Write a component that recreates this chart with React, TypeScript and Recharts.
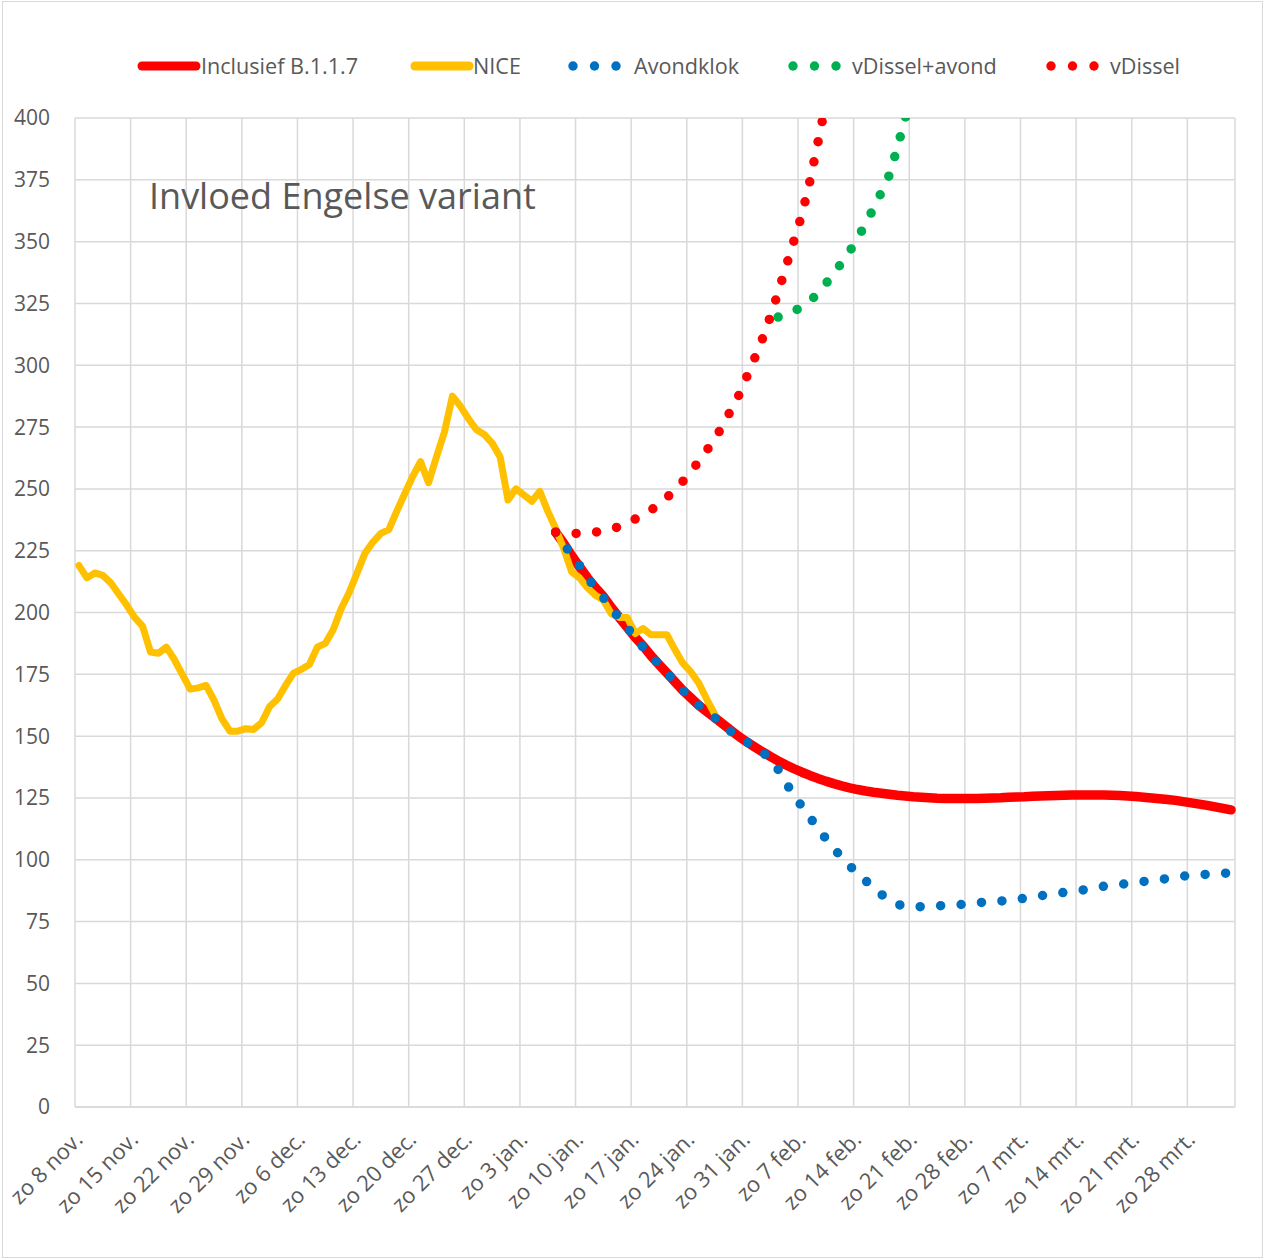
import { LineChart, Line, XAxis, YAxis, CartesianGrid } from "recharts";

// one category per day, starting zo 8 nov.
const DAY_COUNT = 146;

const TICK_LABELS = [
  "zo 8 nov.", "zo 15 nov.", "zo 22 nov.", "zo 29 nov.", "zo 6 dec.", "zo 13 dec.",
  "zo 20 dec.", "zo 27 dec.", "zo 3 jan.", "zo 10 jan.", "zo 17 jan.", "zo 24 jan.",
  "zo 31 jan.", "zo 7 feb.", "zo 14 feb.", "zo 21 feb.", "zo 28 feb.", "zo 7 mrt.",
  "zo 14 mrt.", "zo 21 mrt.", "zo 28 mrt.",
];

const Y_TICKS = [0, 25, 50, 75, 100, 125, 150, 175, 200, 225, 250, 275, 300, 325, 350, 375, 400];

// NICE, from day 0
const NICE = [
  219, 214, 216, 215, 212, 207.5, 203, 198, 194.5, 184, 183.5, 186, 181, 175, 169, 169.5,
  170.5, 164.5, 157, 152, 152, 153, 152.7, 155.5, 162, 165, 170.5, 175.5, 177, 179, 186,
  187.5, 193, 201.5, 208, 216, 224, 228.5, 232, 233.5, 241, 248, 255, 261, 252.5, 263,
  273, 287.5, 283.5, 278.5, 274, 272, 268.5, 263, 245.5, 250, 247.5, 245, 249, 241, 234,
  226, 216.5, 214, 210, 207, 205, 199.5, 198, 198, 191.5, 193.5, 191, 191, 191, 185,
  179.5, 176, 171.5, 165, 159,
];

// Inclusief B.1.1.7, from day 60
const INCLUSIEF_START = 60;
const INCLUSIEF = [
  232.5, 228, 223, 218.5, 214, 210, 206.5, 202, 198, 194, 190, 186.5, 182.5, 179, 175.5,
  172, 168.5, 165.5, 162.5, 160, 157.5, 155, 152.5, 150, 147.8, 145.7, 143.7, 141.8, 140,
  138.3, 136.8, 135.4, 134.1, 132.9, 131.8, 130.8, 129.9, 129.1, 128.4, 127.8, 127.3, 126.9,
  126.5, 126.1, 125.8, 125.5, 125.3, 125.1, 124.9, 124.8, 124.8, 124.8, 124.8, 124.8, 124.9,
  125, 125.1, 125.3, 125.4, 125.5, 125.7, 125.8, 125.9, 126, 126.1, 126.2, 126.2, 126.2,
  126.2, 126.2, 126.1, 126, 125.8, 125.6, 125.3, 125, 124.7, 124.4, 124, 123.5, 123, 122.5,
  122, 121.4, 120.8, 120.2,
];

// Avondklok, from day 60
const AVONDKLOK_START = 60;
const AVONDKLOK = [
  232.5, 228, 223, 219, 214, 210, 206, 202, 197.5, 194, 189.5, 186, 182.5, 179, 175.7, 172,
  168.5, 165.5, 162.5, 160, 157.5, 154.5, 152, 150, 147.8, 145.8, 143.5, 141, 136.5, 131,
  126, 121.5, 117, 113, 108.5, 104.5, 101, 97.5, 94.5, 91.5, 89, 86, 83.5, 82, 81.2, 81, 81,
  81.1, 81.3, 81.6, 81.8, 81.9, 82.1, 82.5, 82.9, 83.1, 83.3, 83.6, 84, 84.4, 84.9, 85.4,
  85.9, 86.4, 86.8, 87.2, 87.6, 88.1, 88.7, 89.3, 89.7, 90, 90.4, 90.8, 91.2, 91.6, 92,
  92.4, 92.9, 93.4, 93.6, 93.9, 94.1, 94.3, 94.5, 94.7,
];

// vDissel+avond, from day 88
const VDISSEL_AVOND_START = 88;
const VDISSEL_AVOND = [
  319.5, 320.5, 322, 323.5, 326, 329, 333, 337, 341.5, 346, 351.5, 357, 363.5, 370, 377, 388,
  400, 412,
];

// vDissel, from day 60
const VDISSEL_START = 60;
const VDISSEL = [
  232.5, 232.2, 232, 232, 232.2, 232.5, 233, 233.7, 234.8, 236, 237.8, 239.5, 241.5, 243.5,
  246.5, 249.5, 253, 257, 261, 265.5, 270, 275.5, 281.5, 287.5, 295, 302.5, 310.5, 319.5,
  329.5, 340, 350.5, 361, 374.5, 390, 406,
];

const at = (arr: number[], start: number, i: number) => {
  const v = arr[i - start];
  return v === undefined ? null : v;
};

const data = Array.from({ length: DAY_COUNT }, (_, i) => ({
  day: i,
  incl: at(INCLUSIEF, INCLUSIEF_START, i),
  nice: at(NICE, 0, i),
  avond: at(AVONDKLOK, AVONDKLOK_START, i),
  dissAvond: at(VDISSEL_AVOND, VDISSEL_AVOND_START, i),
  diss: at(VDISSEL, VDISSEL_START, i),
}));

const TEXT = "#595959";
const GRID = "#d9d9d9";
const FONT = "'Open Sans', sans-serif";

function XTick(props: any) {
  const { x, y, payload } = props;
  const label = TICK_LABELS[Math.round((payload.value + 0.5) / 7)];
  const tx = x + 9;
  const ty = y + 34;
  return (
    <text
      x={tx}
      y={ty}
      transform={`rotate(-45, ${tx}, ${ty})`}
      textAnchor="end"
      fill={TEXT}
      fontSize={22}
      fontFamily={FONT}
    >
      {label}
    </text>
  );
}

const legendItems = [
  { label: "Inclusief B.1.1.7", color: "#FF0000", kind: "line", x: 138, tx: 201 },
  { label: "NICE", color: "#FFC000", kind: "line", x: 411, tx: 473 },
  { label: "Avondklok", color: "#0070C0", kind: "dot", x: 573, tx: 634 },
  { label: "vDissel+avond", color: "#00B050", kind: "dot", x: 793, tx: 852 },
  { label: "vDissel", color: "#FF0000", kind: "dot", x: 1051, tx: 1110 },
];

function ChartLegend() {
  return (
    <svg width={1264} height={100} style={{ position: "absolute", left: 0, top: 0 }}>
      {legendItems.map((it) => (
        <g key={it.label}>
          {it.kind === "line" ? (
            <line x1={it.x + 4} x2={it.x + 58} y1={66} y2={66} stroke={it.color} strokeWidth={9} strokeLinecap="round" />
          ) : (
            [0, 1, 2].map((k) => <circle key={k} cx={it.x + k * 21.5} cy={66} r={4.7} fill={it.color} />)
          )}
          <text x={it.tx} y={74} fill={TEXT} fontSize={21.6} fontFamily={FONT}>
            {it.label}
          </text>
        </g>
      ))}
    </svg>
  );
}

export default function App() {
  return (
    <div style={{ position: "absolute", left: 0, top: 0, width: 1264, height: 1260, background: "#fff", fontFamily: FONT }}>
      <div
        style={{
          position: "absolute",
          left: 2,
          top: 1,
          width: 1259,
          height: 1255,
          border: `1px solid ${GRID}`,
        }}
      />
      <LineChart width={1264} height={1260} data={data} margin={{ top: 118, right: 29, left: 0, bottom: 0 }}>
        <CartesianGrid stroke={GRID} strokeWidth={1.5} />
        <XAxis
          type="number"
          dataKey="day"
          domain={[-0.5, DAY_COUNT - 0.5]}
          ticks={TICK_LABELS.map((_, k) => k * 7 - 0.5)}
          interval={0}
          height={153}
          tickSize={0}
          tickMargin={0}
          tickLine={false}
          axisLine={{ stroke: GRID, strokeWidth: 1.5 }}
          tick={<XTick />}
        />
        <YAxis
          domain={[0, 400]}
          ticks={Y_TICKS}
          allowDataOverflow
          interval={0}
          width={75}
          tickSize={0}
          tickMargin={25}
          tickLine={false}
          axisLine={false}
          tick={{ fill: TEXT, fontSize: 21, fontFamily: FONT }}
        />
        <Line dataKey="incl" stroke="#FF0000" strokeWidth={9.5} strokeLinecap="round" strokeLinejoin="round" dot={false} activeDot={false} isAnimationActive={false} />
        <Line dataKey="nice" stroke="#FFC000" strokeWidth={7} strokeLinecap="round" strokeLinejoin="round" dot={false} activeDot={false} isAnimationActive={false} />
        <Line dataKey="avond" stroke="#0070C0" strokeWidth={9.5} strokeDasharray="0 20.5" strokeLinecap="round" dot={false} activeDot={false} isAnimationActive={false} />
        <Line dataKey="dissAvond" stroke="#00B050" strokeWidth={9.5} strokeDasharray="0 20.5" strokeLinecap="round" dot={false} activeDot={false} isAnimationActive={false} />
        <Line dataKey="diss" stroke="#FF0000" strokeWidth={9.5} strokeDasharray="0 20.5" strokeLinecap="round" dot={false} activeDot={false} isAnimationActive={false} />
      </LineChart>
      <ChartLegend />
      <div
        style={{
          position: "absolute",
          left: 149,
          top: 173,
          fontSize: 36,
          color: TEXT,
          lineHeight: "46px",
          whiteSpace: "nowrap",
        }}
      >
        Invloed Engelse variant
      </div>
    </div>
  );
}
